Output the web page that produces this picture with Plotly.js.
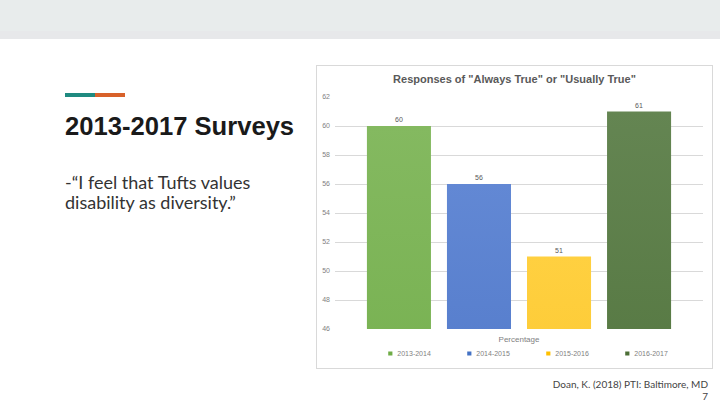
<!DOCTYPE html>
<html>
<head>
<meta charset="utf-8">
<script src="https://cdn.plot.ly/plotly-3.0.1.min.js"></script>
<style>
  html, body { margin:0; padding:0; width:720px; height:405px; overflow:hidden; background:#fff; font-family:Lato, "Open Sans", sans-serif; }
  #band { position:absolute; left:0; top:0; width:720px; height:31px; background:#e8ecec; }
  #band2 { position:absolute; left:0; top:31px; width:720px; height:8px; background:#e7e8ea; }
  #acc1 { position:absolute; left:65px; top:93px; width:30px; height:4px; background:#1f8a80; }
  #acc2 { position:absolute; left:95px; top:93px; width:30px; height:4px; background:#d8612a; }
  #title { position:absolute; left:65px; top:112px; font-family:"Liberation Sans", Arial, sans-serif; font-weight:bold; font-size:25.6px; color:#1a1a1a; white-space:nowrap; }
  #body { position:absolute; left:65px; top:172px; font-family:Lato, sans-serif; font-size:18px; line-height:20px; color:#333; }
  #foot { position:absolute; right:12px; top:378px; font-family:Lato, sans-serif; font-size:10px; line-height:12px; color:#444; text-align:right; }
  #chart { position:absolute; left:316px; top:65px; width:397px; height:304px; border:1px solid #d9d9d9; box-sizing:border-box; }
</style>
</head>
<body>
<div id="band"></div><div id="band2"></div>
<div id="acc1"></div><div id="acc2"></div>
<div id="title">2013-2017 Surveys</div>
<div id="body">-“I feel that Tufts values<br>disability as diversity.”</div>
<div id="foot">Doan, K. (2018) PTI: Baltimore, MD<br>7</div>
<div id="chart"></div>
<script>
const category = ["Percentage"];
const seriesNames = ["2013-2014", "2014-2015", "2015-2016", "2016-2017"];
const seriesValues = [60, 56, 51, 61];
const colorsTop = ["#84b960", "#6288d4", "#ffd040", "#648552"];
const colorsBottom = ["#5a9f2e", "#2c58b2", "#eeb000", "#375c1f"];
const colorsMid = ["#6fac46", "#4472c4", "#ffc000", "#4c6f36"];

const traces = seriesNames.map((name, i) => ({
  type: 'bar',
  name: name,
  x: category,
  y: [seriesValues[i]],
  text: [String(seriesValues[i])],
  textposition: 'outside',
  textfont: {size: 7, color: '#595959', family: 'Liberation Sans, Arial'},
  cliponaxis: false,
  marker: {color: colorsMid[i], line: {width: 0}},
  hoverinfo: 'none'
}));

const layout = {
  width: 395, height: 302,
  margin: {l: 18, r: 9, t: 31, b: 39, autoexpand: false},
  paper_bgcolor: '#fff', plot_bgcolor: '#fff',
  barmode: 'group', bargap: 0.13, bargroupgap: 0.2,
  title: {text: 'Responses of "Always True" or "Usually True"', x: 0.5, xanchor: 'center', y: 0.957, yanchor: 'middle',
          font: {family: 'Liberation Sans, Arial', size: 11, color: '#595959', weight: 'bold'}},
  xaxis: {type: 'category', showgrid: false, zeroline: false, showline: false, ticks: '', ticklabelstandoff: 4,
          tickfont: {size: 8, color: '#7f7f7f', family: 'Liberation Sans, Arial'}},
  yaxis: {range: [46, 62], dtick: 2, tick0: 46, showgrid: true, gridcolor: '#d9d9d9', gridwidth: 1,
          zeroline: false, showline: false, ticks: '', ticklabelstandoff: 4,
          tickfont: {size: 7, color: '#7f7f7f', family: 'Liberation Sans, Arial'}},
  showlegend: true,
  legend: {orientation: 'h', x: 0.49, xanchor: 'center', y: 27, yref: 'container', yanchor: 'middle',
           bgcolor: 'rgba(0,0,0,0)',
           entrywidth: 34, entrywidthmode: 'pixels', itemwidth: 30,
           font: {size: 7, color: '#7f7f7f', family: 'Liberation Sans, Arial'}, traceorder: 'normal'}
};

Plotly.newPlot('chart', traces, layout, {displayModeBar: false, staticPlot: true}).then(gd => {
  const svg = gd.querySelector('svg.main-svg');
  const ns = 'http://www.w3.org/2000/svg';
  let defs = svg.querySelector('defs');
  if (!defs) { defs = document.createElementNS(ns, 'defs'); svg.insertBefore(defs, svg.firstChild); }
  seriesNames.forEach((n, i) => {
    const g = document.createElementNS(ns, 'linearGradient');
    g.setAttribute('id', 'bargrad' + i);
    g.setAttribute('x1', '0'); g.setAttribute('y1', '0'); g.setAttribute('x2', '0'); g.setAttribute('y2', '1');
    const s1 = document.createElementNS(ns, 'stop'); s1.setAttribute('offset', '0'); s1.setAttribute('stop-color', colorsTop[i]);
    const s2 = document.createElementNS(ns, 'stop'); s2.setAttribute('offset', '1'); s2.setAttribute('stop-color', colorsBottom[i]);
    g.appendChild(s1); g.appendChild(s2); defs.appendChild(g);
  });
  gd.querySelectorAll('.barlayer .trace.bars').forEach((t, i) => {
    t.querySelectorAll('.point path').forEach(p => { p.style.setProperty('fill', 'url(#bargrad' + i + ')', 'important'); });
  });
  gd.querySelectorAll('.legend .legendpoints path').forEach(p => {
    p.style.setProperty('transform', 'translate(33px,0px) scale(0.35)');
  });
});
</script>
</body>
</html>
